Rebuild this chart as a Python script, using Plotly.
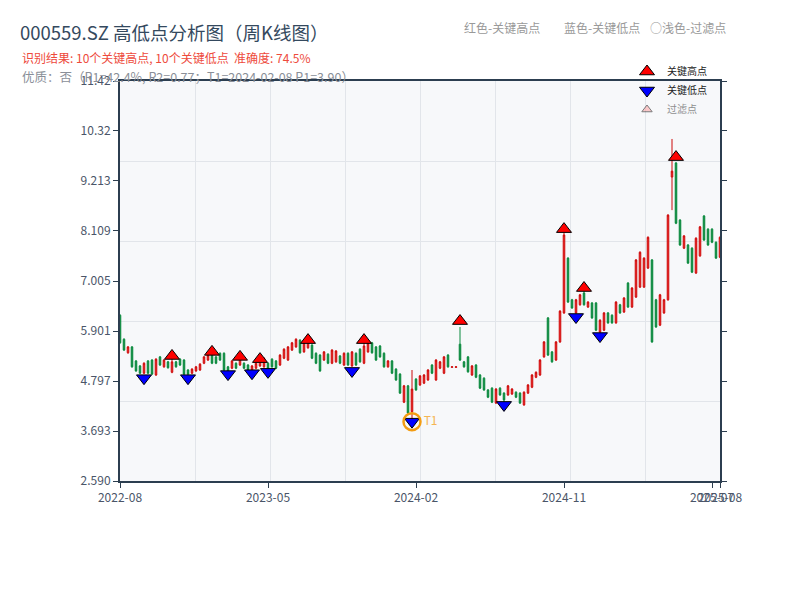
import pandas as pd
import plotly.graph_objects as go

# ---------------- data ----------------
week_end = pd.date_range("2022-08-26", "2025-08-08", freq="W-FRI")
closed_weeks = ["2022-10-07", "2023-01-27", "2023-10-06", "2024-02-16"]
dates = [d.strftime("%Y-%m-%d") for d in week_end if d.strftime("%Y-%m-%d") not in closed_weeks]
dates = ["2024-02-08" if d == "2024-02-09" else d for d in dates]

opens = [6.25, 5.72, 5.42, 5.55, 5.24, 5.13, 4.97, 5.24, 5.26, 4.93,
         5.33, 5.11, 5.22, 4.99, 5.22, 5.28, 5.26, 5.04, 4.97, 5.02,
         5.04, 5.19, 5.26, 5.37, 5.33, 5.41, 5.41, 5.11, 5.08, 5.19,
         5.15, 5.19, 5.15, 5.04, 5.08, 5.13, 5.11, 5.19, 5.28, 5.24,
         5.15, 5.30, 5.26, 5.48, 5.55, 5.70, 5.44, 5.53, 5.59, 5.41,
         5.37, 5.26, 5.39, 5.19, 5.22, 5.35, 5.15, 5.41, 5.13, 5.41,
         5.50, 5.19, 5.44, 5.64, 5.55, 5.57, 5.41, 5.11, 5.24, 5.06,
         4.95, 4.33, 4.69, 4.12, 4.84, 4.71, 4.75, 4.82, 5.15, 4.82,
         5.08, 4.97, 5.37, 5.10, 5.10, 5.61, 5.22, 5.33, 4.93, 5.15,
         4.93, 4.86, 4.60, 4.64, 4.31, 4.64, 4.53, 4.49, 4.51, 4.55,
         4.53, 4.27, 4.53, 4.66, 4.88, 4.93, 5.33, 6.19, 5.44, 5.26,
         5.66, 6.30, 7.51, 6.59, 6.30, 6.48, 6.74, 6.43, 6.52, 6.52,
         5.88, 5.92, 6.30, 6.25, 6.08, 6.48, 6.32, 6.96, 6.43, 6.65,
         6.87, 6.87, 7.29, 7.47, 6.59, 6.03, 6.30, 6.59, 9.30, 9.61,
         8.35, 7.73, 7.80, 7.73, 7.18, 7.56, 8.44, 8.15, 8.15, 7.86,
         7.53]
closes = [5.64, 5.48, 5.55, 5.11, 5.02, 4.97, 5.19, 4.97, 4.95, 5.28,
          5.15, 5.26, 5.09, 5.22, 5.11, 5.15, 4.95, 4.95, 5.06, 5.11,
          5.17, 5.33, 5.37, 5.19, 5.19, 5.26, 5.04, 5.02, 5.24, 5.08,
          5.30, 5.08, 5.04, 5.13, 5.19, 5.26, 5.30, 5.06, 5.11, 5.08,
          5.37, 5.50, 5.55, 5.64, 5.72, 5.42, 5.66, 5.70, 5.30, 5.19,
          5.02, 5.44, 5.19, 5.48, 5.46, 5.19, 5.41, 5.15, 5.44, 5.15,
          5.22, 5.57, 5.64, 5.42, 5.26, 5.33, 5.11, 5.24, 4.97, 4.82,
          4.53, 4.69, 4.09, 4.62, 4.60, 4.91, 4.93, 5.04, 4.97, 5.26,
          5.22, 5.33, 5.11, 5.11, 5.11, 5.26, 5.11, 5.00, 5.13, 4.88,
          4.64, 4.60, 4.44, 4.33, 4.62, 4.49, 4.38, 4.69, 4.62, 4.44,
          4.31, 4.55, 4.71, 4.93, 4.99, 5.26, 5.66, 5.37, 5.22, 5.66,
          6.34, 8.02, 6.54, 6.41, 6.59, 6.70, 6.48, 6.54, 6.19, 5.92,
          6.14, 6.30, 6.08, 6.08, 6.54, 6.30, 6.63, 6.43, 6.85, 7.47,
          7.64, 7.51, 7.97, 5.66, 5.99, 6.70, 6.59, 8.46, 9.43, 8.28,
          7.80, 8.00, 7.40, 7.20, 7.95, 8.20, 7.91, 7.80, 7.86, 7.51,
          7.97]
highs = [6.27, 5.74, 5.57, 5.57, 5.26, 5.15, 5.21, 5.26, 5.28, 5.30,
         5.35, 5.28, 5.24, 5.30, 5.24, 5.30, 5.28, 5.06, 5.08, 5.13,
         5.19, 5.35, 5.39, 5.41, 5.35, 5.43, 5.43, 5.13, 5.26, 5.21,
         5.32, 5.21, 5.17, 5.15, 5.21, 5.28, 5.32, 5.21, 5.30, 5.26,
         5.39, 5.52, 5.57, 5.66, 5.74, 5.72, 5.68, 5.72, 5.61, 5.43,
         5.39, 5.46, 5.41, 5.50, 5.48, 5.37, 5.43, 5.43, 5.46, 5.43,
         5.52, 5.66, 5.66, 5.66, 5.57, 5.59, 5.43, 5.26, 5.26, 5.08,
         4.97, 4.71, 4.71, 5.04, 4.86, 4.93, 4.95, 5.06, 5.17, 5.28,
         5.24, 5.35, 5.39, 5.12, 5.12, 5.99, 5.24, 5.35, 5.15, 5.17,
         4.95, 4.88, 4.62, 4.66, 4.64, 4.66, 4.55, 4.71, 4.64, 4.57,
         4.55, 4.57, 4.73, 4.95, 5.01, 5.28, 5.68, 6.21, 5.46, 5.68,
         6.36, 8.10, 7.53, 6.61, 6.61, 6.72, 6.78, 6.56, 6.54, 6.54,
         6.16, 6.32, 6.32, 6.27, 6.56, 6.50, 6.65, 6.98, 6.87, 7.49,
         7.66, 7.53, 7.99, 7.49, 6.61, 6.72, 6.61, 8.48, 10.14, 9.63,
         8.37, 8.02, 7.82, 7.75, 7.97, 8.22, 8.46, 8.17, 8.17, 7.88,
         7.99]
lows = [5.62, 5.46, 5.40, 5.09, 5.00, 4.95, 4.95, 4.95, 4.93, 4.91,
        5.13, 5.09, 5.07, 4.97, 5.09, 5.13, 4.93, 4.90, 4.95, 5.00,
        5.02, 5.17, 5.24, 5.17, 5.17, 5.24, 5.02, 4.98, 5.06, 5.06,
        5.13, 5.06, 5.02, 5.00, 5.06, 5.11, 5.09, 5.02, 5.09, 5.06,
        5.13, 5.28, 5.24, 5.46, 5.53, 5.40, 5.42, 5.51, 5.28, 5.17,
        5.00, 5.24, 5.17, 5.17, 5.20, 5.17, 5.13, 5.13, 5.11, 5.13,
        5.20, 5.17, 5.42, 5.40, 5.24, 5.31, 5.09, 5.09, 4.95, 4.80,
        4.51, 4.31, 4.07, 3.90, 4.58, 4.69, 4.73, 4.80, 4.95, 4.80,
        5.06, 4.95, 5.09, 5.09, 5.09, 5.24, 5.09, 4.98, 4.91, 4.86,
        4.62, 4.58, 4.42, 4.31, 4.29, 4.47, 4.33, 4.47, 4.49, 4.42,
        4.29, 4.25, 4.51, 4.64, 4.86, 4.91, 5.31, 5.35, 5.20, 5.24,
        5.64, 6.28, 6.52, 6.39, 6.28, 6.46, 6.46, 6.41, 6.17, 5.90,
        5.86, 5.90, 6.06, 6.06, 6.06, 6.28, 6.30, 6.41, 6.41, 6.63,
        6.85, 6.85, 7.27, 5.64, 5.97, 6.01, 6.28, 6.57, 8.57, 8.26,
        7.78, 7.71, 7.38, 7.18, 7.16, 7.54, 7.89, 7.78, 7.84, 7.49,
        7.51]

key_high_idx = [13, 23, 30, 35, 47, 61, 85, 111, 116, 139]
key_high_price = [5.35, 5.44, 5.33, 5.28, 5.70, 5.70, 6.12, 8.15, 6.85, 9.74]
key_low_idx = [6, 17, 27, 33, 37, 58, 73, 96, 114, 120]
key_low_price = [4.86, 4.86, 4.95, 4.97, 5.00, 5.02, 3.90, 4.27, 6.21, 5.79]
t1_date = "2024-02-08"
t1_price = 3.90

tick_dates = ["2022-08-26", "2023-05-26", "2024-02-23", "2024-11-08", "2025-07-25", "2025-08-08"]
tick_text = ["2022-08", "2023-05", "2024-02", "2024-11", "2025-07", "2025-08"]
y_ticks = [2.590, 3.693, 4.797, 5.901, 7.005, 8.109, 9.213, 10.32, 11.42]
y_ticktext = ["2.590", "3.693", "4.797", "5.901", "7.005", "8.109", "9.213", "10.32", "11.42"]

FONT = "Noto Sans CJK SC"
AXIS = "#2c3e50"
GRID = "#e2e5ea"

fig = go.Figure()

# invisible helper for the overlaid grid axes
fig.add_trace(go.Scatter(x=[], y=[], xaxis="x2", yaxis="y2", showlegend=False, hoverinfo="skip"))

fig.add_trace(go.Candlestick(
    x=dates, open=opens, high=highs, low=lows, close=closes,
    increasing=dict(line=dict(color="#cc0a0a", width=1), fillcolor="#ff3030"),
    decreasing=dict(line=dict(color="#0b8a3e", width=1), fillcolor="#0b8a3e"),
    whiskerwidth=0, showlegend=False, name="K线"))

fig.add_trace(go.Scatter(
    x=[dates[i] for i in key_high_idx], y=key_high_price, mode="markers", name="关键高点",
    marker=dict(symbol="triangle-up", size=13, color="#ff0000", line=dict(color="black", width=1))))
fig.add_trace(go.Scatter(
    x=[dates[i] for i in key_low_idx], y=key_low_price, mode="markers", name="关键低点",
    marker=dict(symbol="triangle-down", size=13, color="#0000ff", line=dict(color="black", width=1))))
fig.add_trace(go.Scatter(
    x=[None], y=[None], mode="markers", name="过滤点", visible="legendonly",
    marker=dict(symbol="triangle-up", size=9, color="#ff9999", line=dict(color="black", width=1))))
fig.add_trace(go.Scatter(
    x=[t1_date], y=[t1_price], mode="markers+text", text=["T1"], textposition="middle right",
    textfont=dict(color="#f5b553", size=12, family=FONT),
    marker=dict(symbol="circle-open", size=17, color="#f39c12", line=dict(width=2.5)),
    showlegend=False, hoverinfo="skip"))

fig.update_layout(
    width=800, height=600,
    margin=dict(l=112, r=88, t=73, b=127),
    paper_bgcolor="white", plot_bgcolor="#f7f8fa",
    font=dict(family=FONT, size=12, color="#4a5568"),
    boxgap=0.45,
    title=dict(text="000559.SZ 高低点分析图（周K线图）", x=0.015, xref="container", xanchor="left",
               y=0.958, yref="container", yanchor="middle",
               font=dict(size=18.5, color="#34495e", family=FONT)),
    legend=dict(x=0.845, y=1.06, xanchor="left", yanchor="top", bgcolor="rgba(0,0,0,0)",
                font=dict(size=10, color="#222222", family=FONT), itemwidth=30),
    xaxis=dict(type="category", range=[0, 150], tickmode="array", tickvals=tick_dates, ticktext=tick_text,
               tickangle=0, automargin=False,
               showgrid=False, zeroline=False, showline=True, linecolor=AXIS, linewidth=2, mirror=True,
               ticks="outside", ticklen=5, tickcolor=AXIS, rangeslider=dict(visible=False),
               tickfont=dict(size=12, color="#4a5568")),
    yaxis=dict(range=[2.590, 11.42], tickmode="array", tickvals=y_ticks, ticktext=y_ticktext,
               automargin=False,
               showgrid=False, zeroline=False, showline=True, linecolor=AXIS, linewidth=2,
               mirror="allticks", ticks="outside", ticklen=5, tickcolor=AXIS,
               tickfont=dict(size=12, color="#4a5568")),
    xaxis2=dict(overlaying="x", anchor="y2", range=[0, 8], dtick=1, showgrid=True, gridcolor=GRID,
                showticklabels=False, ticks="", showline=False, zeroline=False, automargin=False),
    yaxis2=dict(overlaying="y", anchor="x2", range=[0, 5], dtick=1, showgrid=True, gridcolor=GRID,
                showticklabels=False, ticks="", showline=False, zeroline=False, automargin=False),
    annotations=[
        dict(text="识别结果: 10个关键高点, 10个关键低点  准确度: 74.5%", xref="paper", yref="paper",
             x=-0.1667, y=1.0575, xanchor="left", yanchor="middle", showarrow=False,
             font=dict(size=12, color="#ee4a3c", family=FONT)),
        dict(text="优质：否（R1=42.4%, R2=0.77；T1=2024-02-08 P1=3.90）", xref="paper", yref="paper",
             x=-0.1667, y=1.0125, xanchor="left", yanchor="middle", showarrow=False,
             font=dict(size=12.5, color="#8a8f98", family=FONT)),
        dict(text="红色-关键高点", xref="paper", yref="paper", x=0.57, y=1.1325, xanchor="left",
             yanchor="middle", showarrow=False, font=dict(size=12, color="#999999", family=FONT)),
        dict(text="蓝色-关键低点", xref="paper", yref="paper", x=0.737, y=1.1325, xanchor="left",
             yanchor="middle", showarrow=False, font=dict(size=12, color="#999999", family=FONT)),
        dict(text="○浅色-过滤点", xref="paper", yref="paper", x=0.88, y=1.1325, xanchor="left",
             yanchor="middle", showarrow=False, font=dict(size=12, color="#999999", family=FONT)),
    ],
)

fig.write_html("out.html")
